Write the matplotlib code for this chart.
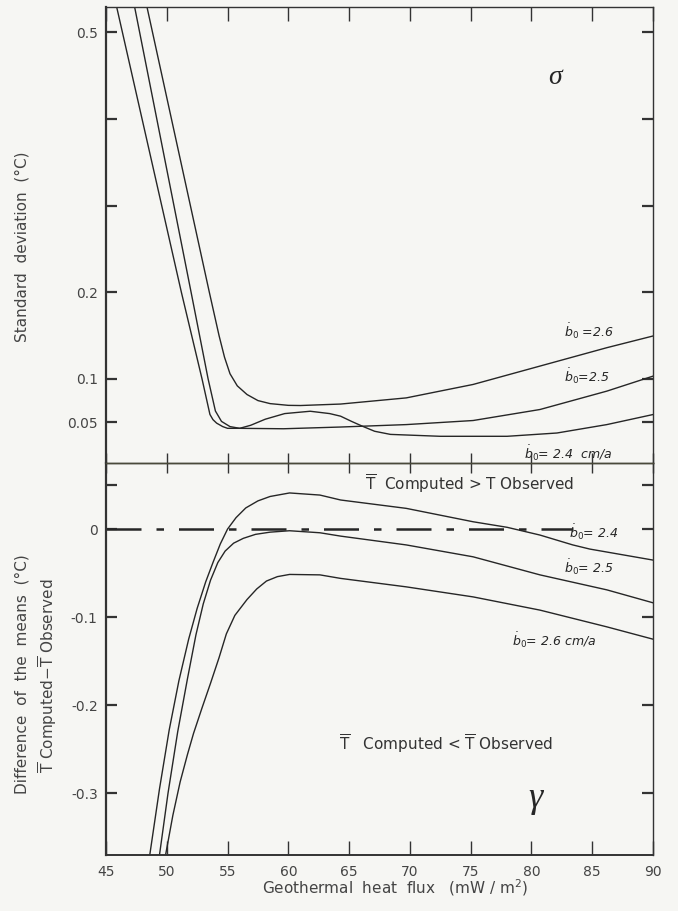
import matplotlib
matplotlib.use("Agg")
import matplotlib.pyplot as plt

# --- datos ---
flux_ticks = [45, 50, 55, 60, 65, 70, 75, 80, 85, 90]

# panel superior: desviacion estandar (sigma)
sd_flux_24 = [47.2, 52.0, 53.4, 54.0, 54.5, 55.2, 56.0, 56.9, 58.1, 59.7, 61.8, 63.4,
              64.3, 65.2, 66.1, 67.1, 68.4, 72.5, 78.0, 82.1, 86.2, 90.0]
sd_24 = [0.54, 0.2, 0.1, 0.063, 0.051, 0.045, 0.043, 0.0465, 0.0535, 0.060, 0.0627, 0.060,
         0.057, 0.051, 0.0454, 0.0396, 0.036, 0.0338, 0.0338, 0.0376, 0.0473, 0.0589]

sd_flux_25 = [45.7, 51.2, 52.9, 53.55, 53.8, 54.1, 54.6, 55.0, 56.0, 59.6, 64.3, 69.7,
              75.2, 80.7, 86.2, 90.0]
sd_25 = [0.54, 0.2, 0.1, 0.059, 0.053, 0.049, 0.045, 0.043, 0.043, 0.0425, 0.0445, 0.0473,
         0.052, 0.0647, 0.0859, 0.1032]

sd_flux_26 = [48.2, 53.5, 54.3, 54.75, 55.2, 55.8, 56.6, 57.5, 58.5, 60.0, 61.0, 64.3,
              69.7, 75.2, 80.7, 86.2, 90.0]
sd_26 = [0.54, 0.2, 0.15, 0.125, 0.106, 0.092, 0.082, 0.075, 0.0715, 0.0695, 0.0693, 0.071,
         0.0781, 0.0936, 0.1148, 0.136, 0.1495]

# panel inferior: diferencia de las medias (gamma)
mean_flux_24 = [48.6, 49.4, 50.2, 51.0, 51.8, 52.5, 53.2, 53.8, 54.4, 55.0, 55.7, 56.5,
                57.5, 58.5, 60.1, 62.6, 64.3, 69.7, 75.2, 78.0, 80.7, 83.4, 84.8, 90.0]
mean_24 = [-0.37, -0.295, -0.228, -0.172, -0.125, -0.09, -0.06, -0.038, -0.017, 0.0, 0.013,
           0.024, 0.032, 0.037, 0.041, 0.0386, 0.033, 0.0235, 0.0083, 0.002, -0.0068,
           -0.018, -0.0227, -0.0352]

mean_flux_25 = [49.4, 50.1, 50.9, 51.7, 52.4, 53.0, 53.6, 54.2, 54.8, 55.5, 56.3, 57.3,
                58.5, 60.1, 62.6, 64.3, 69.7, 75.2, 80.7, 86.2, 90.0]
mean_25 = [-0.37, -0.30, -0.23, -0.17, -0.12, -0.085, -0.058, -0.038, -0.025, -0.016,
           -0.0105, -0.006, -0.0035, -0.0019, -0.0042, -0.008, -0.018, -0.0315, -0.052,
           -0.069, -0.0837]

mean_flux_26 = [49.9, 50.5, 51.1, 51.7, 52.2, 52.9, 53.6, 54.3, 54.9, 55.6, 56.6, 57.4,
                58.2, 59.1, 60.1, 62.6, 64.3, 69.7, 75.2, 80.7, 86.2, 90.0]
mean_26 = [-0.37, -0.325, -0.287, -0.256, -0.232, -0.203, -0.175, -0.146, -0.119, -0.098,
           -0.08, -0.068, -0.059, -0.054, -0.0515, -0.052, -0.056, -0.0656, -0.077, -0.092,
           -0.111, -0.125]

zero_flux = [45, 83.4]
zero_val = [0, 0]

sd_ticks = [0.05, 0.1, 0.2, 0.3, 0.4, 0.5]
sd_ticklabels = ['0.05', '0.1', '0.2', '', '', '0.5']
mean_ticks = [0.05, 0, -0.1, -0.2, -0.3]
mean_ticklabels = ['', '0', '-0.1', '-0.2', '-0.3']

TBAR = r'$\overline{\mathrm{T}}$'

# --- figura ---
W, H = 678, 911
bg = '#f6f6f3'
ink = '#262626'
fig = plt.figure(figsize=(W / 100, H / 100), dpi=100)
fig.patch.set_facecolor(bg)
plt.rcParams['font.family'] = ['DejaVu Sans']

ax_sd = fig.add_axes([106 / W, 1 - 463 / H, 547 / W, 456 / H])
ax_mn = fig.add_axes([106 / W, 1 - 855 / H, 547 / W, 392 / H])

for ax in (ax_sd, ax_mn):
    ax.set_facecolor('none')
    ax.set_xlim(45, 90)
    ax.set_xticks(flux_ticks)
    for s in ax.spines.values():
        s.set_color('#333333')
        s.set_linewidth(1.0)
    ax.spines['left'].set_linewidth(1.6)
    ax.spines['bottom'].set_linewidth(1.4)
    ax.tick_params(axis='y', left=True, right=True, direction='in', length=8, width=1.6,
                   color='#333333', labelsize=10, labelcolor='#444444', pad=6)

# panel superior
ax_sd.set_ylim(0.003, 0.529)
ax_sd.set_yticks(sd_ticks)
ax_sd.set_yticklabels(sd_ticklabels)
ax_sd.tick_params(axis='x', top=True, bottom=False, direction='in', length=10, width=1,
                  labelbottom=False, color='#333333')
ax_sd.spines['bottom'].set_linewidth(1.0)

ax_sd.plot(sd_flux_24, sd_24, color=ink, lw=1.0)
ax_sd.plot(sd_flux_25, sd_25, color=ink, lw=1.0)
ax_sd.plot(sd_flux_26, sd_26, color=ink, lw=1.0)

ax_sd.text(81.9, 0.448, 'σ', family='Liberation Serif', style='italic', fontsize=20,
           color=ink, ha='center', va='center')
lab = dict(style='italic', fontsize=9, color=ink, va='center', ha='left')
ax_sd.text(82.7, 0.155, r'$\dot{b}_0$ =2.6', **lab)
ax_sd.text(82.7, 0.103, r'$\dot{b}_0$=2.5', **lab)
ax_sd.text(79.4, 0.014, r'$\dot{b}_0$= 2.4  cm/a', **lab)

# panel inferior
ax_mn.set_ylim(-0.37, 0.075)
ax_mn.set_yticks(mean_ticks)
ax_mn.set_yticklabels(mean_ticklabels)
ax_mn.tick_params(axis='x', top=False, bottom=True, direction='in', length=10, width=1,
                  labelsize=10, labelcolor='#444444', pad=7, color='#333333')
ax_mn.spines['top'].set_color('#4a4a3a')
sec = ax_mn.secondary_xaxis('top')
sec.set_xticks(flux_ticks)
sec.set_xticklabels([])
sec.tick_params(axis='x', direction='inout', length=14, width=1, color='#333333')
sec.spines['top'].set_color('#4a4a3a')

ax_mn.plot(zero_flux, zero_val, color=ink, lw=1.8, dashes=(14, 6, 3, 6))
ax_mn.plot(mean_flux_24, mean_24, color=ink, lw=1.0)
ax_mn.plot(mean_flux_25, mean_25, color=ink, lw=1.0)
ax_mn.plot(mean_flux_26, mean_26, color=ink, lw=1.0)

ax_mn.text(83.1, -0.003, r'$\dot{b}_0$= 2.4', **lab)
ax_mn.text(82.7, -0.043, r'$\dot{b}_0$= 2.5', **lab)
ax_mn.text(78.4, -0.126, r'$\dot{b}_0$= 2.6 cm/a', **lab)

ax_mn.text(74.9, 0.052, TBAR + r'$\ $ Computed > T Observed', fontsize=11, color='#333333',
           ha='center', va='center')
ax_mn.text(73.0, -0.243, TBAR + r'$\ $  Computed < ' + TBAR + ' Observed', fontsize=11,
           color='#333333', ha='center', va='center')
ax_mn.text(80.3, -0.306, 'γ', family='Liberation Serif', style='italic', fontsize=26,
           color=ink, ha='center', va='center')

# etiquetas de los ejes
fig.text(22 / W, 1 - 247 / H, 'Standard  deviation  (°C)', rotation=90, fontsize=11,
         color='#444444', ha='center', va='center')
fig.text(22 / W, 1 - 674 / H, 'Difference  of  the  means  (°C)', rotation=90, fontsize=11,
         color='#444444', ha='center', va='center')
fig.text(48 / W, 1 - 676 / H, TBAR + ' Computed$-$' + TBAR + ' Observed', rotation=90,
         fontsize=11, color='#444444', ha='center', va='center')
fig.text(395 / W, 1 - 888 / H, 'Geothermal  heat  flux   (mW / m$^2$)', fontsize=11,
         color='#444444', ha='center', va='center')

plt.savefig('out.png', dpi=100, facecolor=bg)
